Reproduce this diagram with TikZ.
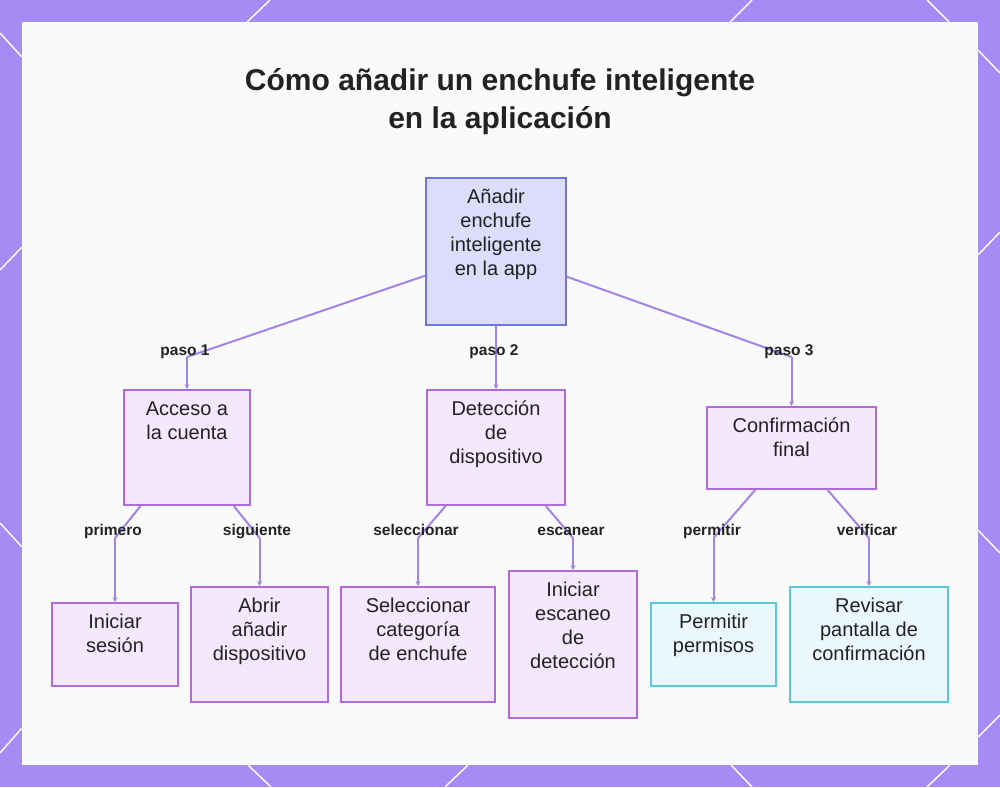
\documentclass[tikz,border=0pt]{standalone}
\usepackage{fontspec}
\setmainfont{Liberation Sans}
\usetikzlibrary{arrows.meta}
\definecolor{frame}{HTML}{A78BF5}
\definecolor{panel}{HTML}{F9FAFA}
\definecolor{conn}{HTML}{A283E6}
\definecolor{rootfill}{HTML}{DCDDFB}
\definecolor{rootdraw}{HTML}{7073D8}
\definecolor{lvfill}{HTML}{F3E8FD}
\definecolor{lvdraw}{HTML}{B36AD9}
\definecolor{cyfill}{HTML}{EAF7FD}
\definecolor{cydraw}{HTML}{5CC6DA}
\definecolor{txt}{HTML}{222222}
\newcommand{\bxt}[3]{\parbox[c][#2][t]{#1}{\centering\fontsize{20}{24}\selectfont\rule{0pt}{25pt}#3\par}}
\tikzset{
  box/.style={rectangle, inner sep=0pt, line width=1.8pt, text=txt},
  rootbox/.style={box, fill=rootfill, draw=rootdraw},
  lvbox/.style={box, fill=lvfill, draw=lvdraw},
  cybox/.style={box, fill=cyfill, draw=cydraw},
  conline/.style={draw=conn, line width=2pt},
  arr/.style={conline, -{Stealth[length=5pt,width=5pt]}},
  elabel/.style={font=\bfseries\fontsize{15.5}{18}\selectfont, text=txt, inner sep=0pt, anchor=base},
  deco/.style={draw=white, line width=1.4pt}
}
\begin{document}
\begin{tikzpicture}[x=1pt,y=-1pt]
\useasboundingbox (0,0) rectangle (1000,787);
\fill[frame] (0,0) rectangle (1000,787);
% decorative diagonal lines on the frame
\draw[deco] (247,22) -- (270,0);
\draw[deco] (730,22) -- (752,0);
\draw[deco] (927,0) -- (949,22);
\draw[deco] (0,33) -- (22,57);
\draw[deco] (0,270) -- (22,247);
\draw[deco] (0,523) -- (22,547);
\draw[deco] (22,728) -- (0,753);
\draw[deco] (978,50) -- (1000,73);
\draw[deco] (978,255) -- (1000,232);
\draw[deco] (978,530) -- (1000,553);
\draw[deco] (978,737) -- (1000,715);
\draw[deco] (248,765) -- (271,787);
\draw[deco] (468,765) -- (445,787);
\draw[deco] (731,765) -- (752,787);
\draw[deco] (950,765) -- (927,787);
\fill[panel] (22,22) rectangle (978,765);

% title
\node[font=\bfseries\fontsize{30}{38}\selectfont, text=txt, align=center] (title) at (500,102) {Cómo añadir un enchufe inteligente\\en la aplicación};

% nodes
\node[rootbox] (root) at (496,251.5) {\bxt{140pt}{147pt}{Añadir\\enchufe\\inteligente\\en la app}};
\node[lvbox] (acc) at (187,447.5) {\bxt{126pt}{115pt}{Acceso a\\la cuenta}};
\node[lvbox] (det) at (496,447.5) {\bxt{138pt}{115pt}{Detección\\de\\dispositivo}};
\node[lvbox] (conf) at (791.5,448) {\bxt{169pt}{82pt}{Confirmación\\final}};
\node[lvbox] (ini) at (115,644.5) {\bxt{126pt}{83pt}{Iniciar\\sesión}};
\node[lvbox] (abr) at (259.5,644.5) {\bxt{137pt}{115pt}{Abrir\\añadir\\dispositivo}};
\node[lvbox] (sel) at (418,644.5) {\bxt{154pt}{115pt}{Seleccionar\\categoría\\de enchufe}};
\node[lvbox] (esc) at (573,644.5) {\bxt{128pt}{147pt}{Iniciar\\escaneo\\de\\detección}};
\node[cybox] (per) at (713.5,644.5) {\bxt{125pt}{83pt}{Permitir\\permisos}};
\node[cybox] (rev) at (869,644.5) {\bxt{158pt}{115pt}{Revisar\\pantalla de\\confirmación}};

% bend points
\coordinate (b1) at (187,357);
\coordinate (b3) at (791.5,357);
\coordinate (bA1) at (115,538);
\coordinate (bA2) at (259.5,538);
\coordinate (bD1) at (418,538);
\coordinate (bD2) at (573,538);
\coordinate (bC1) at (713.5,538);
\coordinate (bC2) at (869,538);

% connectors
\draw[conline] (root) -- (b1);
\draw[arr] (b1) -- (acc.north);
\draw[arr] (root) -- (det);
\draw[conline] (root) -- (b3);
\draw[arr] (b3) -- (conf.north);
\draw[conline] (acc) -- (bA1);
\draw[arr] (bA1) -- (ini.north);
\draw[conline] (acc) -- (bA2);
\draw[arr] (bA2) -- (abr.north);
\draw[conline] (det) -- (bD1);
\draw[arr] (bD1) -- (sel.north);
\draw[conline] (det) -- (bD2);
\draw[arr] (bD2) -- (esc.north);
\draw[conline] (conf) -- (bC1);
\draw[arr] (bC1) -- (per.north);
\draw[conline] (conf) -- (bC2);
\draw[arr] (bC2) -- (rev.north);

% edge labels
\node[elabel] (l1) at (185,355.5) {paso 1};
\node[elabel] (l2) at (494,355.5) {paso 2};
\node[elabel] (l3) at (789,355.5) {paso 3};
\node[elabel] (l4) at (113,535.5) {primero};
\node[elabel] (l5) at (257,535.5) {siguiente};
\node[elabel] (l6) at (416,535.5) {seleccionar};
\node[elabel] (l7) at (571,535.5) {escanear};
\node[elabel] (l8) at (712,535.5) {permitir};
\node[elabel] (l9) at (867,535.5) {verificar};
\end{tikzpicture}
\end{document}
